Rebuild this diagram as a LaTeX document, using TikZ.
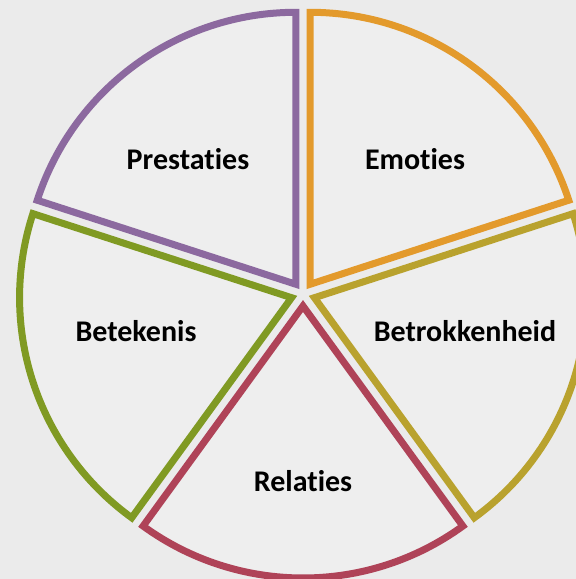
\documentclass[tikz,border=0pt]{standalone}
\usepackage{fontspec}
\setmainfont{Carlito}[Ligatures={NoCommon}]
\definecolor{bgcol}{HTML}{EBEBEB}
\definecolor{infill}{HTML}{EEEEEE}
\definecolor{cpurple}{HTML}{8C699F}
\definecolor{corange}{HTML}{E39A2C}
\definecolor{colive}{HTML}{B9A22E}
\definecolor{cgreen}{HTML}{809A23}
\definecolor{cred}{HTML}{AF4358}
\tikzset{
  sector/.style={line width=7pt, line join=miter, fill=infill},
  lbl/.style={font=\bfseries\fontsize{30}{32}\selectfont, text=black, anchor=base, inner sep=0pt}
}
\newcommand{\sectorpath}[4]{% color, start, end, bisector
  \draw[sector, draw=#1] ($(ctr)+(#4:12)$) -- ++(#2:272) arc[start angle=#2, end angle=#3, radius=272] -- cycle;
}
\usetikzlibrary{calc}
\begin{document}
\begin{tikzpicture}[x=1pt,y=1pt]
  \fill[bgcol] (0,0) rectangle (576,579);
  \useasboundingbox (0,0) rectangle (576,579);
  \clip (0,0) rectangle (576,579);
  \coordinate (ctr) at (303,285);
  \sectorpath{cpurple}{90}{162}{126}
  \sectorpath{corange}{18}{90}{54}
  \sectorpath{colive}{-54}{18}{-18}
  \sectorpath{cred}{-126}{-54}{-90}
  \sectorpath{cgreen}{162}{234}{198}
  \node[lbl] (prest) at (188,409) {Prestaties};
  \node[lbl] (emot) at (415,409) {Emoties};
  \node[lbl] (betek) at (136,237) {Betekenis};
  \node[lbl] (betrok) at (465,237) {Betrokkenheid};
  \node[lbl] (relat) at (303,87) {Relaties};
\end{tikzpicture}
\end{document}
